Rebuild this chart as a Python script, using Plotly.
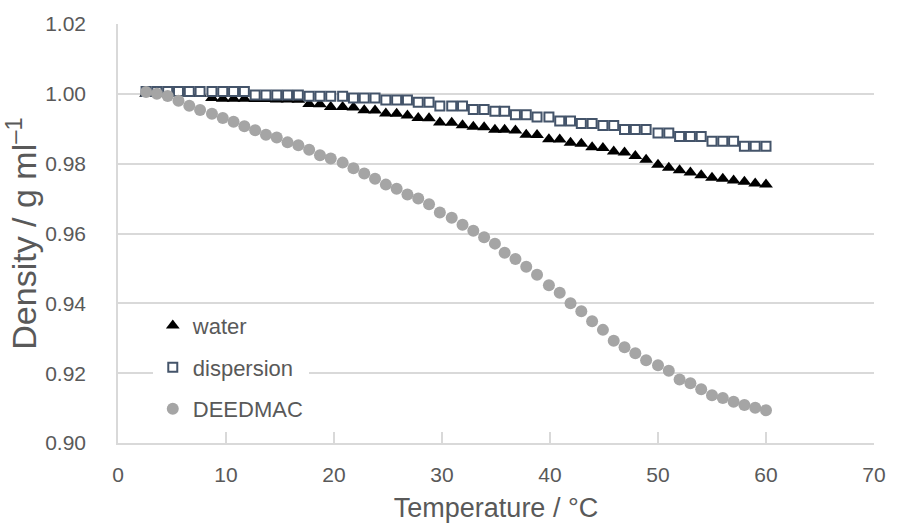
import plotly.graph_objects as go

# Temperature points (°C) shared by all three series
temperature = [2.6, 3.6, 4.6, 5.6, 6.6, 7.6, 8.7, 9.7, 10.7, 11.7,
               12.7, 13.7, 14.7, 15.7, 16.7, 17.7, 18.7, 19.7, 20.8, 21.8,
               22.8, 23.8, 24.8, 25.8, 26.8, 27.8, 28.8, 29.8, 30.9, 31.9,
               32.9, 33.9, 34.9, 35.8, 36.8, 37.8, 38.8, 39.9, 40.9, 41.9,
               42.9, 43.9, 44.9, 45.9, 46.9, 47.9, 48.9, 50.0, 51.0, 52.0,
               53.0, 54.0, 55.0, 56.0, 57.0, 58.0, 59.0, 60.0]

# Density (g/ml)
water = [1.0000, 1.0000, 1.0000, 1.0000, 1.0000, 1.0000, 0.9988, 0.9986, 0.9986, 0.9986,
         0.9985, 0.9985, 0.9984, 0.9984, 0.9983, 0.9971, 0.9970, 0.9962, 0.9962, 0.9961,
         0.9953, 0.9952, 0.9944, 0.9943, 0.9938, 0.9931, 0.9930, 0.9918, 0.9917, 0.9910,
         0.9906, 0.9904, 0.9897, 0.9897, 0.9895, 0.9883, 0.9882, 0.9870, 0.9869, 0.9860,
         0.9857, 0.9847, 0.9845, 0.9835, 0.9832, 0.9822, 0.9811, 0.9797, 0.9788, 0.9781,
         0.9775, 0.9767, 0.9760, 0.9757, 0.9752, 0.9748, 0.9743, 0.9740]

dispersion = [1.0007, 1.0007, 1.0007, 1.0007, 1.0007, 1.0007, 1.0007, 1.0007, 1.0007, 1.0007,
              0.9997, 0.9997, 0.9997, 0.9997, 0.9997, 0.9993, 0.9993, 0.9993, 0.9993, 0.9988,
              0.9988, 0.9988, 0.9982, 0.9982, 0.9982, 0.9976, 0.9976, 0.9965, 0.9965, 0.9965,
              0.9955, 0.9955, 0.9950, 0.9950, 0.9940, 0.9940, 0.9934, 0.9934, 0.9922, 0.9922,
              0.9915, 0.9915, 0.9909, 0.9909, 0.9898, 0.9898, 0.9898, 0.9888, 0.9888, 0.9878,
              0.9878, 0.9878, 0.9864, 0.9864, 0.9864, 0.9850, 0.9850, 0.9850]

deedmac = [1.0005, 1.0000, 0.9994, 0.9980, 0.9966, 0.9954, 0.9943, 0.9931, 0.9920, 0.9907,
           0.9896, 0.9883, 0.9875, 0.9861, 0.9853, 0.9840, 0.9824, 0.9815, 0.9803, 0.9787,
           0.9772, 0.9757, 0.9740, 0.9728, 0.9712, 0.9700, 0.9684, 0.9660, 0.9645, 0.9625,
           0.9608, 0.9589, 0.9571, 0.9545, 0.9527, 0.9505, 0.9482, 0.9452, 0.9430, 0.9400,
           0.9377, 0.9349, 0.9324, 0.9293, 0.9274, 0.9257, 0.9237, 0.9223, 0.9207, 0.9182,
           0.9171, 0.9154, 0.9137, 0.9129, 0.9118, 0.9109, 0.9101, 0.9094]

x_ticks = [0, 10, 20, 30, 40, 50, 60, 70]
y_ticks = [0.90, 0.92, 0.94, 0.96, 0.98, 1.00, 1.02]

TEXT = "#595959"
GRID = "#d9d9d9"
FONT = "Liberation Sans, Arial, sans-serif"

fig = go.Figure()
fig.add_trace(go.Scatter(
    x=temperature, y=water, mode="markers", name="water", legendgroup="a",
    marker=dict(symbol="triangle-up", size=12, color="black"),
))
fig.add_trace(go.Scatter(
    x=temperature, y=dispersion, mode="markers", name="dispersion", legendgroup="b",
    marker=dict(symbol="square", size=9, color="white",
                line=dict(color="#44546a", width=2)),
))
fig.add_trace(go.Scatter(
    x=temperature, y=deedmac, mode="markers", name="DEEDMAC", legendgroup="c",
    marker=dict(symbol="circle", size=12, color="#a5a5a5"),
))

fig.update_layout(
    width=898, height=530,
    margin=dict(l=118, r=18, t=17, b=82),
    paper_bgcolor="white", plot_bgcolor="white",
    font=dict(family=FONT, size=21, color=TEXT),
    showlegend=True,
    legend=dict(
        x=0.046, y=0.33, xanchor="left", yanchor="top",
        bgcolor="white", font=dict(size=22, color=TEXT),
        tracegroupgap=10, itemsizing="trace",
    ),
    xaxis=dict(
        range=[0, 70], tickvals=x_ticks, showgrid=False, zeroline=False,
        showline=True, linecolor=GRID, linewidth=1.5,
        ticks="inside", ticklen=11, tickcolor=GRID, tickwidth=1.5,
        ticklabelstandoff=12,
        title=dict(text="Temperature / °C", font=dict(size=27, color=TEXT), standoff=13),
    ),
    yaxis=dict(
        range=[0.90, 1.02], tickvals=y_ticks, tickformat=".2f",
        showgrid=True, gridcolor=GRID, gridwidth=1.5, zeroline=False,
        showline=True, linecolor=GRID, linewidth=1.5, ticks="",
        ticklabelstandoff=26,
        title=dict(text="Density / g ml<sup>–1</sup>", font=dict(size=34, color=TEXT), standoff=3),
    ),
)

fig.write_html("out.html")
